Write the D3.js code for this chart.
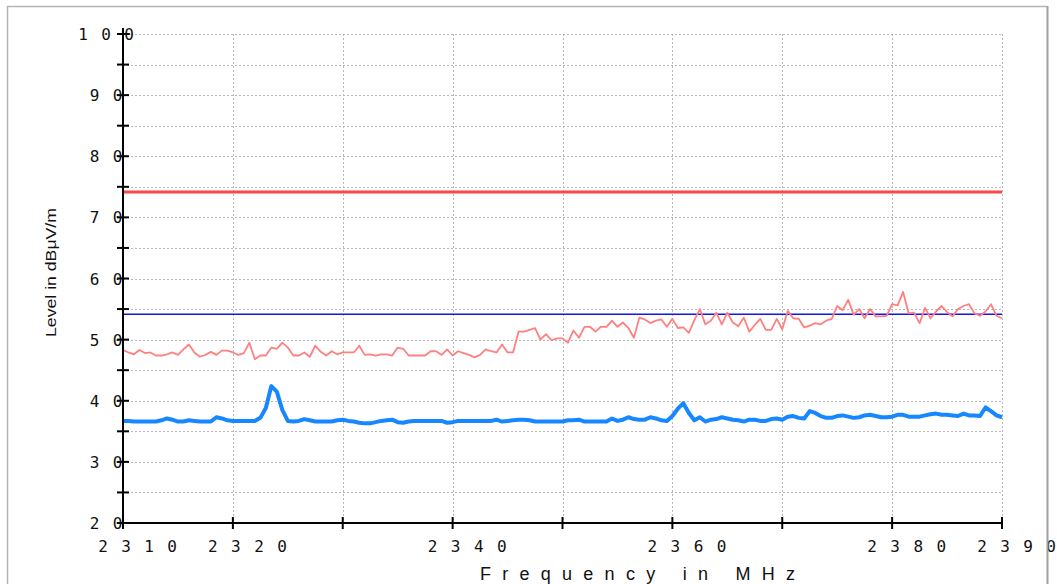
<!DOCTYPE html>
<html>
<head>
<meta charset="utf-8">
<script src="https://cdn.jsdelivr.net/npm/d3@7"></script>
<style>
  html, body { margin: 0; padding: 0; background: #fff; }
  svg { display: block; }
  .tick-label { font-family: "DejaVu Sans Mono", monospace; font-size: 16px; fill: #111; letter-spacing: 13.4px; }
  .title { font-family: "Liberation Sans", Arial, sans-serif; fill: #111; }
</style>
</head>
<body>
<div id="chart"></div>
<script>
// sweep: 2310 .. 2390 MHz, 0.5 MHz step
const freqStart = 2310;
const freqStep = 0.5;

// peak detector trace (dBuV/m)
const peakValues = [
  48.3, 47.9, 47.6, 48.3, 47.8, 47.9, 47.4, 47.4, 47.6, 47.9,
  47.5, 48.4, 49.2, 47.9, 47.2, 47.5, 48.0, 47.5, 48.2, 48.2,
  47.9, 47.5, 47.8, 49.5, 46.8, 47.4, 47.4, 48.7, 48.5, 49.5,
  48.7, 47.4, 47.4, 47.9, 47.2, 49.0, 48.0, 47.4, 48.1, 47.6,
  47.9, 47.9, 47.9, 49.0, 47.5, 47.6, 47.4, 47.6, 47.6, 47.4,
  48.7, 48.5, 47.4, 47.4, 47.4, 47.4, 48.1, 48.1, 47.5, 48.4,
  47.4, 48.1, 47.8, 47.5, 47.1, 47.5, 48.4, 48.1, 47.9, 49.2,
  47.9, 47.9, 51.3, 51.3, 51.6, 51.9, 50.0, 50.9, 49.9, 50.2,
  50.2, 49.5, 51.5, 50.3, 52.1, 52.1, 51.3, 52.1, 52.1, 53.1,
  52.1, 52.8, 51.9, 50.3, 53.6, 53.3, 52.7, 53.1, 53.3, 52.1,
  53.4, 51.9, 52.0, 51.1, 53.2, 55.0, 52.5, 53.1, 54.4, 52.5,
  54.4, 52.8, 52.2, 53.6, 51.3, 52.4, 53.4, 51.6, 51.6, 53.4,
  51.7, 54.7, 53.5, 53.4, 52.0, 52.3, 52.7, 52.5, 53.1, 53.4,
  55.5, 54.8, 56.5, 54.1, 55.0, 53.5, 55.0, 53.8, 53.8, 53.9,
  55.8, 55.6, 57.8, 54.3, 54.4, 52.7, 55.2, 53.5, 54.6, 55.5,
  54.5, 53.8, 55.0, 55.5, 55.8, 54.3, 53.9, 54.6, 55.8, 53.9, 53.5
];

// average detector trace (dBuV/m)
const avgValues = [
  36.7, 36.7, 36.6, 36.6, 36.6, 36.6, 36.6, 36.8, 37.1, 36.9,
  36.6, 36.6, 36.8, 36.7, 36.6, 36.6, 36.6, 37.3, 37.1, 36.8,
  36.7, 36.7, 36.7, 36.7, 36.7, 37.2, 38.8, 42.4, 41.5, 38.5,
  36.7, 36.6, 36.7, 37.0, 36.8, 36.6, 36.6, 36.6, 36.6, 36.8,
  36.9, 36.7, 36.6, 36.4, 36.3, 36.3, 36.5, 36.7, 36.8, 36.9,
  36.5, 36.4, 36.6, 36.7, 36.7, 36.7, 36.7, 36.7, 36.7, 36.4,
  36.5, 36.7, 36.7, 36.7, 36.7, 36.7, 36.7, 36.7, 36.9, 36.6,
  36.7, 36.8, 36.9, 36.9, 36.8, 36.6, 36.6, 36.6, 36.6, 36.6,
  36.6, 36.8, 36.8, 36.9, 36.6, 36.6, 36.6, 36.6, 36.6, 37.1,
  36.7, 36.9, 37.3, 37.0, 36.9, 36.9, 37.3, 37.1, 36.8, 36.7,
  37.5, 38.7, 39.6, 38.0, 36.8, 37.3, 36.6, 36.9, 37.0, 37.3,
  37.1, 36.9, 36.8, 36.6, 36.9, 36.9, 36.7, 36.7, 37.0, 37.1,
  36.9, 37.4, 37.5, 37.2, 37.1, 38.3, 38.0, 37.5, 37.2, 37.2,
  37.5, 37.6, 37.4, 37.2, 37.3, 37.6, 37.7, 37.5, 37.3, 37.3,
  37.4, 37.7, 37.7, 37.4, 37.4, 37.4, 37.6, 37.8, 37.9, 37.7,
  37.7, 37.6, 37.5, 37.9, 37.6, 37.6, 37.5, 38.9, 38.3, 37.6, 37.3
];

// limit lines
const peakLimit = 74;
const avgLimit = 54;

// axis ticks
const xTicks = [2310, 2320, 2330, 2340, 2350, 2360, 2370, 2380, 2390];
const xTickLabels = [2310, 2320, 2340, 2360, 2380, 2390];
const yTicks = [20, 30, 40, 50, 60, 70, 80, 90, 100];
const yMinorTicks = [25, 35, 45, 55, 65, 75, 85, 95];

const xTitle = 'Frequency in MHz';
const yTitle = 'Level in dBμV/m';

const W = 1057, H = 584;

const svg = d3.select('#chart').append('svg').attr('width', W).attr('height', H);

const x = d3.scaleLinear().domain([2310, 2390]).range([123, 1002]);
const y = d3.scaleLinear().domain([20, 100]).range([523, 34]);

const pts = (vals) => vals.map((v, i) => ({ f: freqStart + i * freqStep, v: v }));

// grid
const grid = svg.append('g').attr('stroke', '#b8b8b8').attr('stroke-width', 1).attr('stroke-dasharray', '2,2');
grid.selectAll('.hg').data(yTicks.concat(yMinorTicks).filter(d => d > 20))
  .enter().append('line')
  .attr('x1', x(2310)).attr('x2', x(2390))
  .attr('y1', d => Math.round(y(d)) + 0.5).attr('y2', d => Math.round(y(d)) + 0.5);
grid.selectAll('.vg').data(xTicks.filter(d => d > 2310))
  .enter().append('line')
  .attr('y1', y(100)).attr('y2', y(20))
  .attr('x1', d => Math.round(x(d)) + 0.5).attr('x2', d => Math.round(x(d)) + 0.5);

// limits
const limits = [
  { v: peakLimit, color: '#ff4646', w: 3 },
  { v: avgLimit, color: '#1414e6', w: 1.5 }
];
svg.selectAll('.limit').data(limits).enter().append('line')
  .attr('x1', x(2310)).attr('x2', x(2390))
  .attr('y1', d => y(d.v) - 1).attr('y2', d => y(d.v) - 1)
  .attr('stroke', d => d.color).attr('stroke-width', d => d.w);

const line = d3.line().x(d => x(d.f)).y(d => y(d.v));

svg.append('path').datum(pts(peakValues))
  .attr('d', line).attr('fill', 'none')
  .attr('stroke', '#ff8080').attr('stroke-width', 1.8).attr('stroke-linejoin', 'round');

svg.append('path').datum(pts(avgValues))
  .attr('d', line).attr('fill', 'none')
  .attr('stroke', '#1787ff').attr('stroke-width', 4).attr('stroke-linejoin', 'round');

// axes
const ax = svg.append('g').attr('stroke', '#000').attr('stroke-width', 2);
ax.append('line').attr('x1', x(2310)).attr('x2', x(2390)).attr('y1', y(20)).attr('y2', y(20));
ax.append('line').attr('x1', x(2310)).attr('x2', x(2310)).attr('y1', y(20)).attr('y2', y(100) - 6);
ax.selectAll('.yt').data(yTicks.concat(yMinorTicks)).enter().append('line')
  .attr('x1', x(2310) - 6).attr('x2', x(2310) + 6)
  .attr('y1', d => y(d)).attr('y2', d => y(d));
ax.selectAll('.xt').data(xTicks).enter().append('line')
  .attr('x1', d => x(d)).attr('x2', d => x(d))
  .attr('y1', y(20) - 6).attr('y2', y(20) + 6);

// tick labels (spaced-out digits)
svg.selectAll('.xl').data(xTickLabels).enter().append('text')
  .attr('class', 'tick-label')
  .attr('x', d => x(d) - 24.8).attr('y', 552)
  .text(d => d);
svg.selectAll('.yl').data(yTicks).enter().append('text')
  .attr('class', 'tick-label')
  .attr('x', d => 106 - (String(d).length - 1) * 11.5 - 4.8)
  .attr('y', d => y(d) + 6)
  .text(d => d);

// titles
svg.append('text').attr('class', 'title')
  .attr('x', 480).attr('y', 580)
  .attr('font-size', 18)
  .attr('textLength', 315).attr('lengthAdjust', 'spacing')
  .text(xTitle);
svg.append('text').attr('class', 'title')
  .attr('transform', 'translate(56,272.5) rotate(-90)')
  .attr('text-anchor', 'middle')
  .attr('font-size', 15)
  .attr('textLength', 129).attr('lengthAdjust', 'spacingAndGlyphs')
  .text(yTitle);

// outer frame
svg.append('path').attr('d', `M7.5,${H} V6.5 H1047`)
  .attr('fill', 'none').attr('stroke', '#b4b4b4').attr('stroke-width', 1.5);
svg.append('line').attr('x1', 1047.5).attr('x2', 1047.5).attr('y1', 6).attr('y2', H)
  .attr('stroke', '#a0a0a0').attr('stroke-width', 2);
</script>
</body>
</html>
